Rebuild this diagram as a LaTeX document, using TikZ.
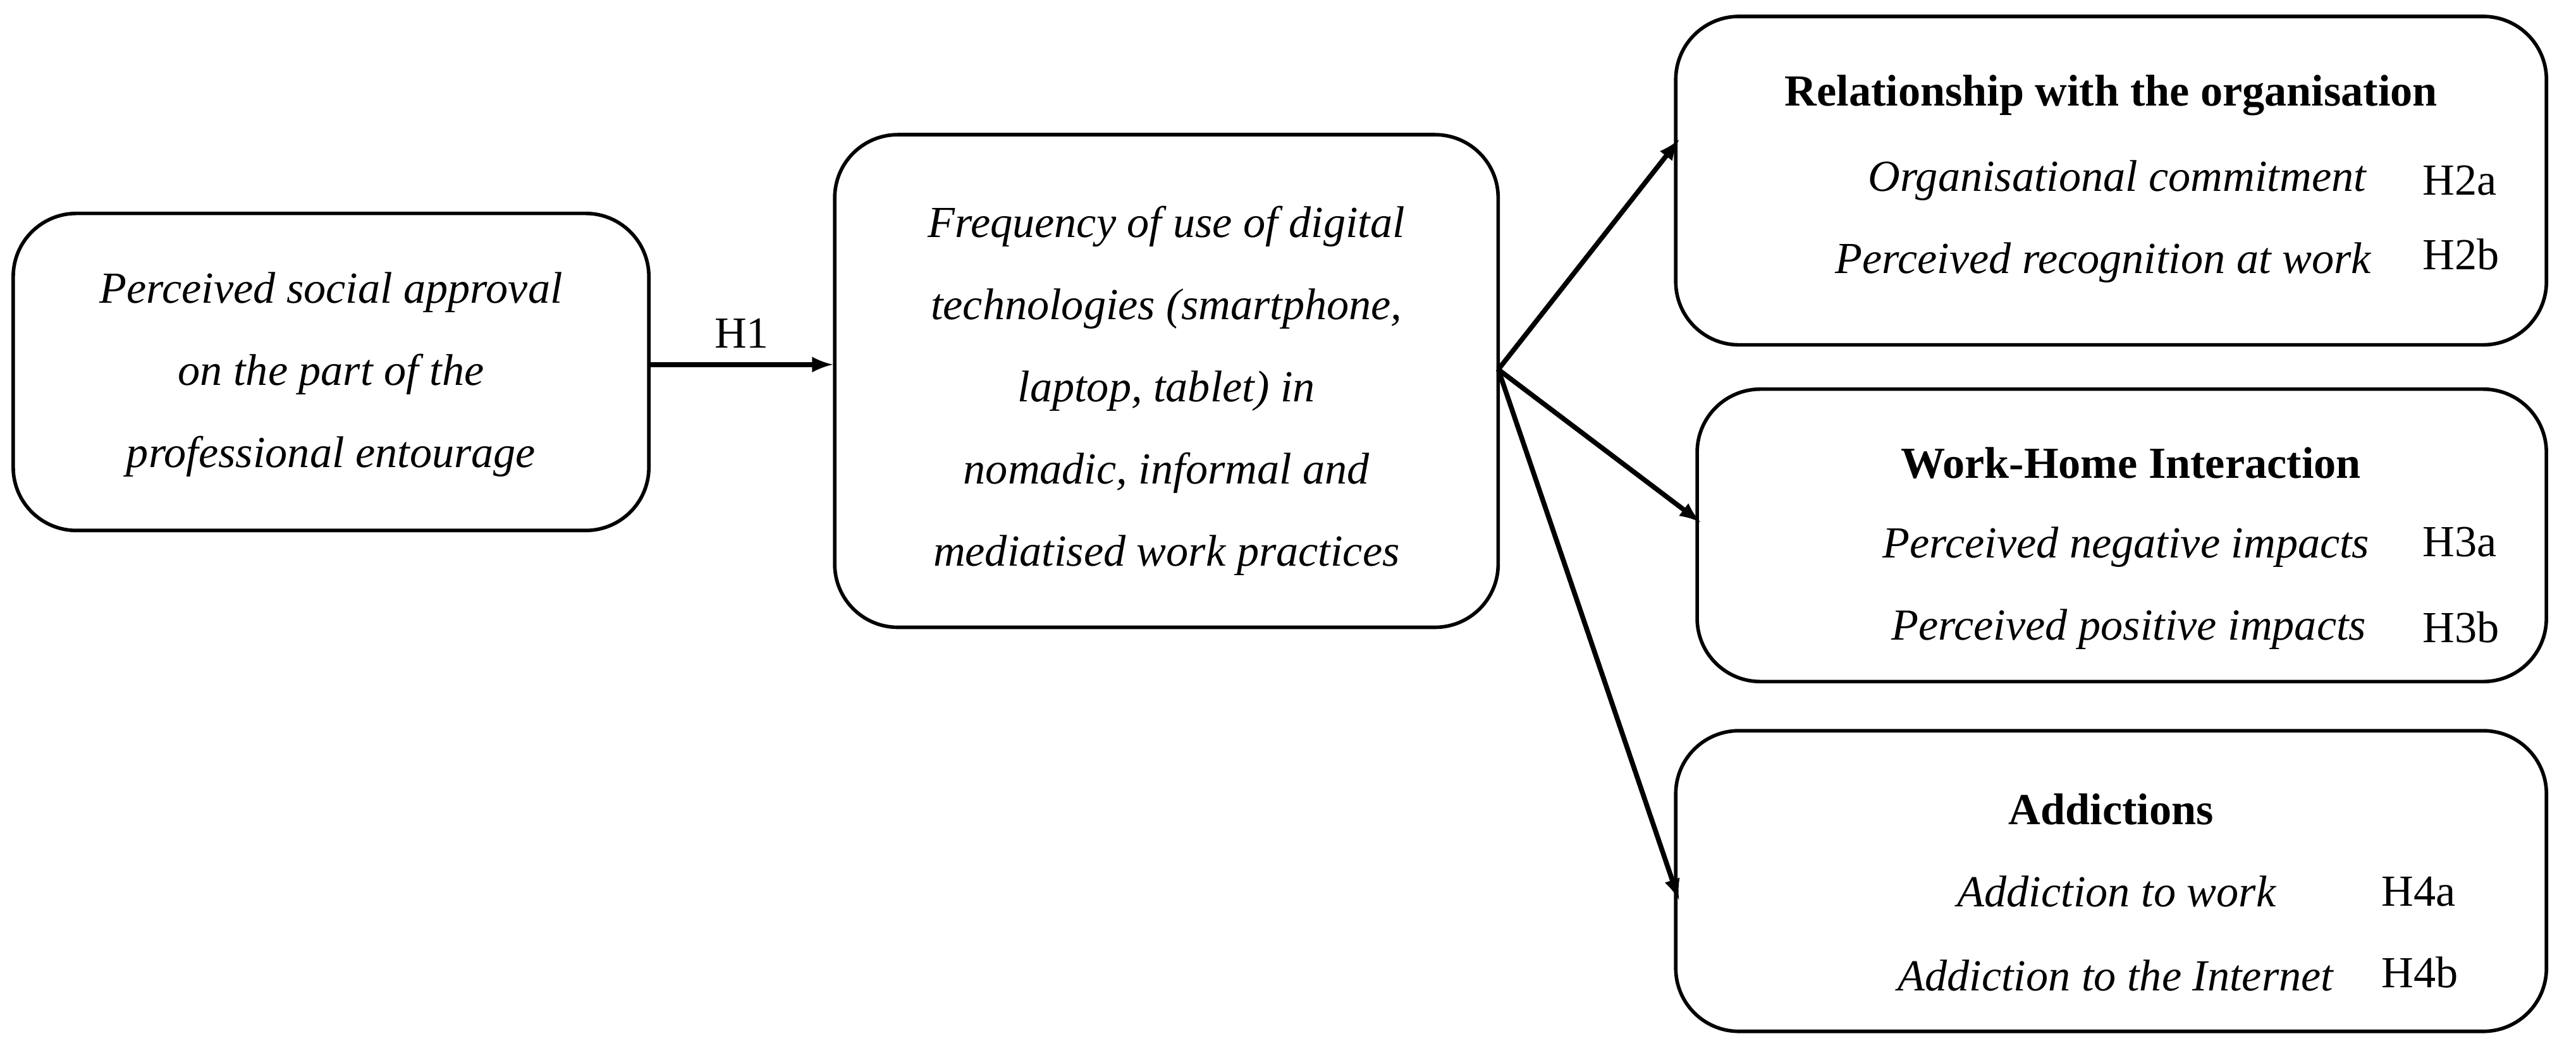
\documentclass[tikz,border=0pt]{standalone}
\usepackage{fontspec}
\setmainfont{Liberation Serif}
\usetikzlibrary{positioning}
\tikzset{
  box/.style={draw, line width=1.6pt, rounded corners=1cm},
  txt/.style={font=\fontsize{20}{37}\selectfont\itshape, align=center},
  head/.style={font=\fontsize{20}{24}\selectfont\bfseries},
  item/.style={font=\fontsize{20}{24}\selectfont\itshape, anchor=east},
  hyp/.style={font=\fontsize{20}{24}\selectfont, anchor=west},
  arr/.style={->, >=latex, line width=2.2pt}
}
\begin{document}
\begin{tikzpicture}[x=0.026cm, y=-0.026cm]
  \useasboundingbox (0,0) rectangle (1568,641);
  % boxes
  \node (approval) [box, minimum width=10.06cm, minimum height=5.02cm] at (201.5,226.5) {};
  \node (freq) [box, minimum width=10.5cm, minimum height=7.8cm] at (710,232) {};
  \node (orga) [box, minimum width=13.78cm, minimum height=5.2cm] at (1285,110) {};
  \node (home) [box, minimum width=13.44cm, minimum height=4.63cm] at (1291.5,326) {};
  \node (addict) [box, minimum width=13.78cm, minimum height=4.76cm] at (1285,536.5) {};
  % texts
  \node [txt] at (201.5,228) {Perceived social approval\\on the part of the\\professional entourage};
  \node [txt] at (710,238) {Frequency of use of digital\\technologies (smartphone,\\laptop, tablet) in\\nomadic, informal and\\mediatised work practices};
  \node [head] at (1285,58) {Relationship with the organisation};
  \node [item] at (1445,110) {Organisational commitment};
  \node [item] at (1448,160) {Perceived recognition at work};
  \node [hyp] at (1470,110) {H2a};
  \node [hyp] at (1470,155) {H2b};
  \node [head] at (1297,282) {Work-Home Interaction};
  \node [item] at (1447,333) {Perceived negative impacts};
  \node [item] at (1445,383) {Perceived positive impacts};
  \node [hyp] at (1470,330) {H3a};
  \node [hyp] at (1470,382) {H3b};
  \node [head] at (1285,493) {Addictions};
  \node [item] at (1390,543) {Addiction to work};
  \node [item] at (1425,594) {Addiction to the Internet};
  \node [hyp] at (1445,543) {H4a};
  \node [hyp] at (1445,592) {H4b};
  % connectors
  \coordinate (fork) at (912,225);
  \draw [arr] (approval.east |- 0,222) -- (freq.west |- 0,222) node [midway, above=3pt, font=\fontsize{20}{24}\selectfont] {H1};
  \draw [arr] (fork) -- (1022,85);
  \draw [arr] (fork) -- (1035,318);
  \draw [arr] (fork) -- (1022,548);
\end{tikzpicture}
\end{document}
